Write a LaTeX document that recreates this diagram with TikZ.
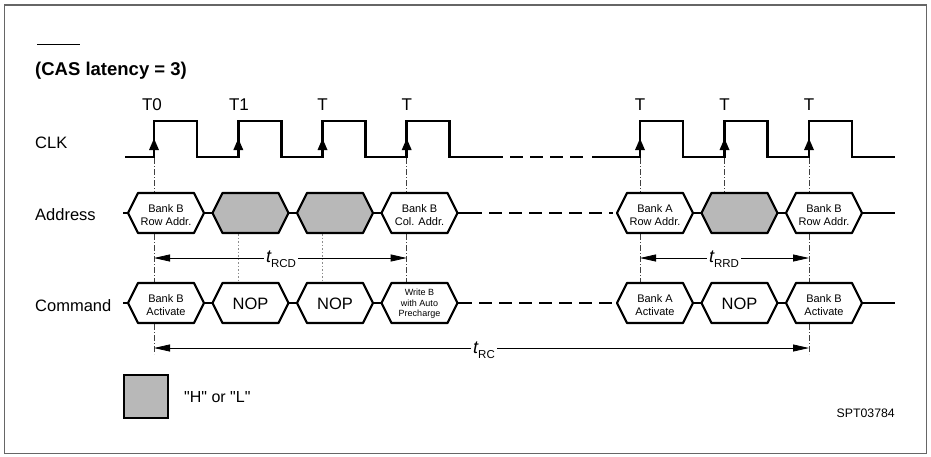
\documentclass[tikz,border=0pt]{standalone}
\usepackage{fontspec}
\setmainfont{Liberation Sans}
\newfontfamily\plainquotes{Liberation Sans}[Ligatures=TeXOff]
\usetikzlibrary{arrows.meta}
\newcommand\hexshape[3]{% left x, centre y, extra style
  \draw[bus,#3] (#1,#2) -- ++(10,-20) -- ++(56,0) -- ++(10,20) -- ++(-10,20) -- ++(-56,0) -- cycle;}
\begin{document}
\begin{tikzpicture}[x=1pt,y=-1pt,
  sig/.style={line width=2.6pt, line join=miter},
  bus/.style={line width=2.2pt, line join=round},
  vguide/.style={line width=0.6pt, dash pattern=on 6pt off 2pt on 1pt off 2pt, black!75},
  faint/.style={line width=0.5pt, dash pattern=on 1.5pt off 2pt, black!45},
  dim/.style={line width=0.8pt, -{Triangle[length=16pt,width=7pt]}},
  hh/.style={fill=black!28},
  lbl/.style={inner sep=0pt, font=\fontsize{16.5}{18}\selectfont},
  tl/.style={inner sep=0pt, font=\fontsize{17}{18}\selectfont},
  hx/.style={inner sep=0pt, align=center, font=\fontsize{11}{13}\selectfont},
  hxs/.style={inner sep=0pt, align=center, font=\fontsize{9}{10.5}\selectfont},
  nop/.style={inner sep=0pt, font=\fontsize{16.5}{18}\selectfont},
  tdim/.style={inner sep=2pt, fill=white},
]
\useasboundingbox (0,0) rectangle (931,456);
\draw[black!60, line width=1.3pt] (4.5,5) rectangle (926.5,453.5);

% title
\node[inner sep=0pt, anchor=base west, font=\fontsize{18.5}{20}\selectfont\bfseries] (title) at (35,75) {(CAS latency = 3)};
\draw[line width=0.9pt] (37,44) -- (80,44);

% row labels
\node[lbl, anchor=base west] (lclk) at (35,148) {CLK};
\node[lbl, anchor=base west] (laddr) at (35,220) {Address};
\node[lbl, anchor=base west] (lcmd) at (35,311) {Command};

% clock
\draw[sig] (125,157) -- (154,157) -- (154,121) -- (197,121) -- (197,157)
  -- (238.3,157) -- (238.3,121) -- (281.3,121) -- (281.3,157)
  -- (322.5,157) -- (322.5,121) -- (365.5,121) -- (365.5,157)
  -- (406.7,157) -- (406.7,121) -- (449.7,121) -- (449.7,157) -- (503,157);
\draw[sig, dash pattern=on 13pt off 7pt] (510,157) -- (588,157);
\draw[sig] (592,157) -- (640,157) -- (640,121) -- (683,121) -- (683,157)
  -- (724.5,157) -- (724.5,121) -- (767.5,121) -- (767.5,157)
  -- (809,157) -- (809,121) -- (852,121) -- (852,157) -- (895,157);
\foreach \x in {154,238.3,322.5,406.7,640,724.5,809}
  \fill (\x,138.5) -- (\x-5,150) -- (\x+5,150) -- cycle;

% clock edge labels
\node[tl, anchor=base] (t0) at (152,110) {T0};
\node[tl, anchor=base] (t1) at (239,110) {T1};
\node[tl, anchor=base] (t2) at (322.5,110) {T};
\node[tl, anchor=base] (t3) at (406.7,110) {T};
\node[tl, anchor=base] (t4) at (640,110) {T};
\node[tl, anchor=base] (t5) at (724.5,110) {T};
\node[tl, anchor=base] (t6) at (809,110) {T};

% vertical guides
\draw[vguide] (154,158) -- (154,193) (154,234) -- (154,283) (154,324) -- (154,354);
\draw[faint] (238.3,234) -- (238.3,282) (322.5,234) -- (322.5,282);
\draw[vguide] (406.7,158) -- (406.7,193) (406.7,234) -- (406.7,283);
\draw[vguide] (640,158) -- (640,193) (640,234) -- (640,283);
\draw[vguide] (724.5,158) -- (724.5,193);
\draw[vguide] (809,158) -- (809,193) (809,234) -- (809,283) (809,324) -- (809,354);

% address bus
\hexshape{128}{213}{}
\hexshape{212.5}{213}{hh}
\hexshape{297}{213}{hh}
\hexshape{381.5}{213}{}
\hexshape{617}{213}{}
\hexshape{701.5}{213}{hh}
\hexshape{786}{213}{}
\draw[bus] (123,213) -- (128,213) (204,213) -- (212.5,213) (288.5,213) -- (297,213)
  (373,213) -- (381.5,213) (457.5,213) -- (482,213)
  (693,213) -- (701.5,213) (777.5,213) -- (786,213) (862,213) -- (895,213);
\draw[bus, dash pattern=on 13pt off 7pt] (489,213) -- (613,213);
\node[hx] (a1) at (166,215) {Bank B\\Row Addr.};
\node[hx] (a4) at (419.5,215) {Bank B\\Col. Addr.};
\node[hx] (a5) at (655,215) {Bank A\\Row Addr.};
\node[hx] (a7) at (824,215) {Bank B\\Row Addr.};

% command bus
\hexshape{128}{303}{}
\hexshape{212.5}{303}{}
\hexshape{297}{303}{}
\hexshape{381.5}{303}{}
\hexshape{617}{303}{}
\hexshape{701.5}{303}{}
\hexshape{786}{303}{}
\draw[bus] (123,303) -- (128,303) (204,303) -- (212.5,303) (288.5,303) -- (297,303)
  (373,303) -- (381.5,303) (457.5,303) -- (472,303)
  (693,303) -- (701.5,303) (777.5,303) -- (786,303) (862,303) -- (895,303);
\draw[bus, dash pattern=on 13pt off 7pt] (479,303) -- (613,303);
\node[hx] (c1) at (166,305) {Bank B\\Activate};
\node[nop] (c2) at (250.5,304) {NOP};
\node[nop] (c3) at (335,304) {NOP};
\node[hxs] (c4) at (419.5,304) {Write B\\with Auto\\Precharge};
\node[hx] (c5) at (655,305) {Bank A\\Activate};
\node[nop] (c6) at (739.5,304) {NOP};
\node[hx] (c7) at (824,305) {Bank B\\Activate};

% timing dimensions
\coordinate (rcdL) at (154,258);
\coordinate (rcdR) at (406.7,258);
\coordinate (rrdL) at (640,258);
\coordinate (rrdR) at (809,258);
\coordinate (rcL) at (154,348);
\coordinate (rcR) at (809,348);
\node[tdim] (trcd) at (281,259) {\fontsize{18}{18}\selectfont\itshape t\raisebox{-4.5pt}{\upshape\fontsize{11.5}{11.5}\selectfont RCD}};
\node[tdim] (trrd) at (724,259) {\fontsize{18}{18}\selectfont\itshape t\raisebox{-4.5pt}{\upshape\fontsize{11.5}{11.5}\selectfont RRD}};
\node[tdim] (trc) at (484,350) {\fontsize{18}{18}\selectfont\itshape t\raisebox{-4.5pt}{\upshape\fontsize{11.5}{11.5}\selectfont RC}};
\draw[dim] (trcd.west |- rcdL) -- (rcdL);
\draw[dim] (trcd.east |- rcdR) -- (rcdR);
\draw[dim] (trrd.west |- rrdL) -- (rrdL);
\draw[dim] (trrd.east |- rrdR) -- (rrdR);
\draw[dim] (trc.west |- rcL) -- (rcL);
\draw[dim] (trc.east |- rcR) -- (rcR);

% legend
\draw[line width=2.5pt, hh] (124,375) rectangle (168,418);
\node[inner sep=0pt, anchor=west, font=\fontsize{16}{18}\selectfont\plainquotes] (leg) at (184,397) {"H" or "L"};
\node[inner sep=0pt, anchor=base east, font=\fontsize{12.3}{14}\selectfont] (code) at (895,417) {SPT03784};
\end{tikzpicture}
\end{document}
